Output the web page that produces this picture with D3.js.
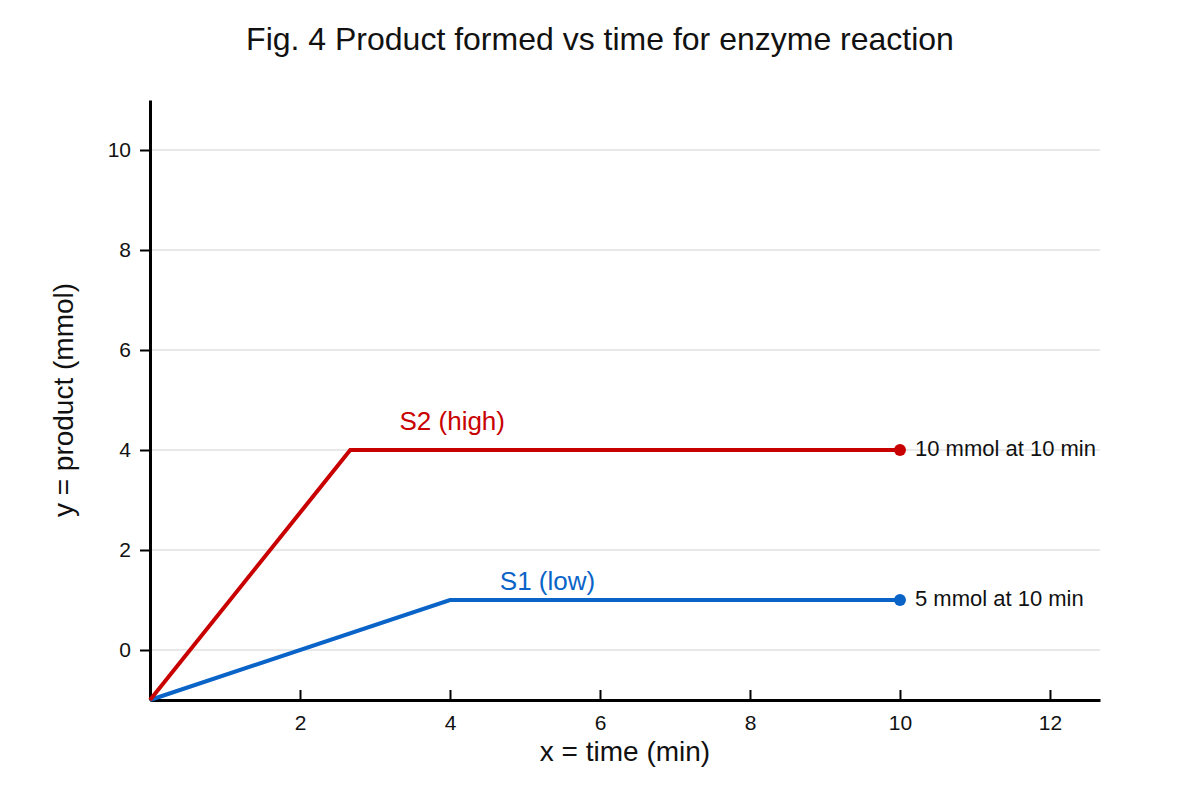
<!DOCTYPE html>
<html>
<head>
<meta charset="utf-8">
<script src="https://cdn.jsdelivr.net/npm/d3@7"></script>
<style>
  body { margin: 0; background: #fff; }
  svg { font-family: "Liberation Sans", Arial, sans-serif; }
</style>
</head>
<body>
<svg width="1200" height="800"></svg>
<script>
// S1 (low) and S2 (high): time (min) -> product (mmol)
const s1Times = [0, 4, 10];
const s1Values = [-1, 1, 1];
const s2Times = [0, 2.67, 10];
const s2Values = [-1, 4, 4];
const xTicks = [2, 4, 6, 8, 10, 12];
const yTicks = [0, 2, 4, 6, 8, 10];
const notes = ["5 mmol at 10 min", "10 mmol at 10 min"];

const svg = d3.select("svg");

const x = d3.scaleLinear().domain([0, 12.667]).range([150, 1100]);
const y = d3.scaleLinear().domain([-1, 11]).range([700, 100]);

// gridlines
svg.append("g")
    .selectAll("line")
    .data(yTicks)
    .enter()
    .append("line")
    .attr("x1", x(0))
    .attr("x2", x(12.667))
    .attr("y1", d => y(d))
    .attr("y2", d => y(d))
    .attr("stroke", "#e0e0e0")
    .attr("stroke-width", 1.5);

// axes
const xAxis = svg.append("g")
    .attr("transform", `translate(0,${y(-1)})`)
    .call(d3.axisBottom(x).tickValues(xTicks).tickSizeInner(-10).tickSizeOuter(0).tickPadding(15));
const yAxis = svg.append("g")
    .attr("transform", `translate(${x(0)},0)`)
    .call(d3.axisLeft(y).tickValues(yTicks).tickSizeInner(10).tickSizeOuter(0).tickPadding(9));

[xAxis, yAxis].forEach(ax => {
    ax.attr("font-size", null).attr("font-family", null);
    ax.select(".domain").attr("stroke", "#000").attr("stroke-width", 3);
    ax.selectAll(".tick line").attr("stroke", "#000").attr("stroke-width", 2);
    ax.selectAll(".tick text").style("font-size", "21px").attr("fill", "#111");
});

// series
const series = [
    {name: "S1 (low)", color: "#0a64c8", t: s1Times, v: s1Values, note: notes[0], lx: 5.3, ly: 1.38},
    {name: "S2 (high)", color: "#c80000", t: s2Times, v: s2Values, note: notes[1], lx: 4.03, ly: 4.58},
];

const line = d3.line().x(d => x(d[0])).y(d => y(d[1]));

series.forEach(s => {
    const pts = s.t.map((t, i) => [t, s.v[i]]);
    svg.append("path")
        .datum(pts)
        .attr("d", line)
        .attr("fill", "none")
        .attr("stroke", s.color)
        .attr("stroke-width", 4)
        .attr("stroke-linejoin", "miter");

    const last = pts[pts.length - 1];
    svg.append("circle")
        .attr("cx", x(last[0]))
        .attr("cy", y(last[1]))
        .attr("r", 6)
        .attr("fill", s.color);

    svg.append("text")
        .attr("x", x(last[0]) + 15)
        .attr("y", y(last[1]) - 2)
        .attr("dy", "0.35em")
        .attr("font-size", 22)
        .attr("fill", "#111")
        .text(s.note);

    svg.append("text")
        .attr("x", x(s.lx))
        .attr("y", y(s.ly))
        .attr("dy", "0.35em")
        .attr("text-anchor", "middle")
        .attr("font-size", 26)
        .attr("fill", s.color)
        .text(s.name);
});

// titles
svg.append("text")
    .attr("x", 600).attr("y", 39)
    .attr("dy", "0.35em")
    .attr("text-anchor", "middle")
    .attr("font-size", 32)
    .attr("fill", "#111")
    .text("Fig. 4 Product formed vs time for enzyme reaction");

svg.append("text")
    .attr("x", 625).attr("y", 751)
    .attr("dy", "0.35em")
    .attr("text-anchor", "middle")
    .attr("font-size", 28)
    .attr("fill", "#111")
    .text("x = time (min)");

svg.append("text")
    .attr("transform", "translate(63,400) rotate(-90)")
    .attr("dy", "0.35em")
    .attr("text-anchor", "middle")
    .attr("font-size", 28)
    .attr("fill", "#111")
    .text("y = product (mmol)");
</script>
</body>
</html>
